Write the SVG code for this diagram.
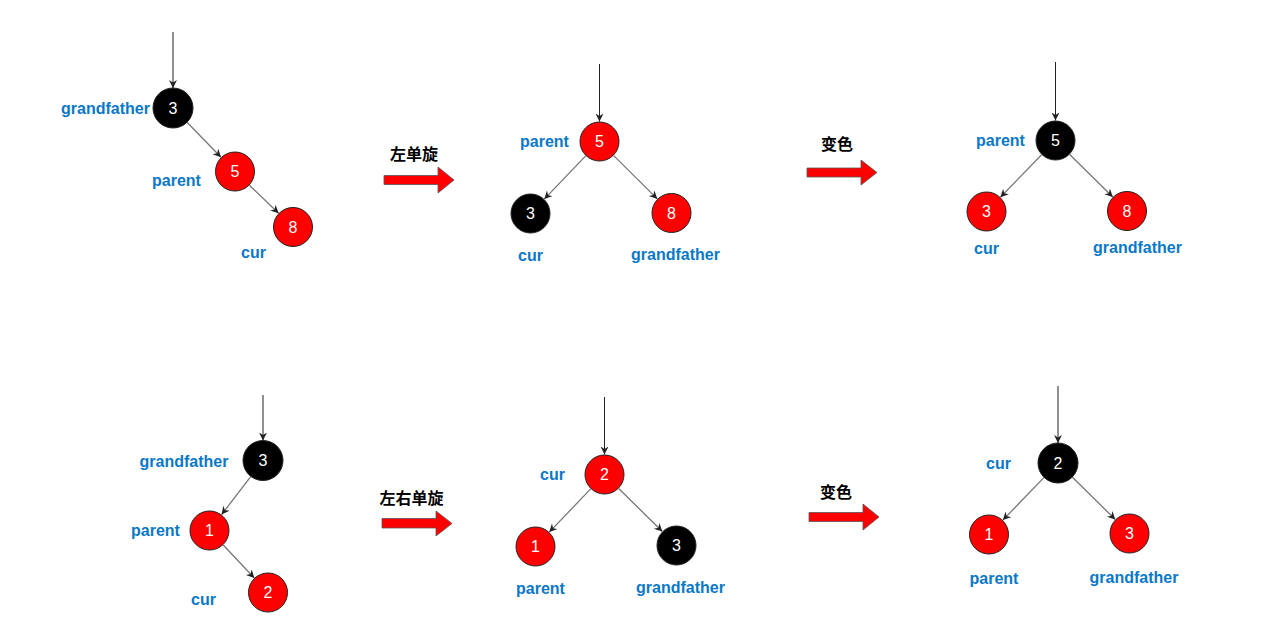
<svg xmlns="http://www.w3.org/2000/svg" width="1265" height="635" viewBox="0 0 1265 635">
<defs>
<marker id="ah" markerUnits="userSpaceOnUse" markerWidth="10" markerHeight="10" refX="8" refY="4" orient="auto">
<path d="M0,0 L8,4 L0,8 L2.5,4 z" fill="#222"/>
</marker>
<style>
.n{stroke:#222;stroke-width:1}
.r{fill:#ff0000}
.b{fill:#000}
.v{font-family:"Liberation Sans",Arial,sans-serif;font-size:16px;fill:#fff;text-anchor:middle}
.l{font-family:"Liberation Sans",Arial,sans-serif;font-size:16px;font-weight:bold;fill:#0a78c8}
.c{font-family:"Liberation Sans","Noto Sans CJK SC",sans-serif;font-size:16px;font-weight:bold;fill:#000}
.e{stroke:#777;stroke-width:1.3;fill:none;marker-end:url(#ah)}
.t{stroke:#222;stroke-width:1;fill:none;marker-end:url(#ah)}
.ba{fill:#ff0000;stroke:#555;stroke-width:0.8}
</style>
</defs>
<rect width="1265" height="635" fill="#fff"/>
<g id="connectors">
<line class="t" x1="173" y1="32" x2="173" y2="88"/>
<line class="e" x1="187" y1="122.3" x2="221" y2="157.2"/>
<line class="e" x1="249.4" y1="185.3" x2="278.6" y2="213.2"/>
<line class="t" x1="599.5" y1="64" x2="599.5" y2="121.5"/>
<line class="e" x1="585.7" y1="155.9" x2="544.3" y2="199.1"/>
<line class="e" x1="613.7" y1="155.6" x2="657.3" y2="198.9"/>
<line class="t" x1="1055.5" y1="62" x2="1055.5" y2="120.5"/>
<line class="e" x1="1041.6" y1="154.8" x2="1000.4" y2="197.2"/>
<line class="e" x1="1069.7" y1="154.5" x2="1112.8" y2="197"/>
<line class="t" x1="263" y1="395" x2="263" y2="440.5"/>
<line class="e" x1="250.9" y1="476.4" x2="221.6" y2="514.6"/>
<line class="e" x1="223.2" y1="545" x2="254.3" y2="578"/>
<line class="t" x1="604.5" y1="397" x2="604.5" y2="454.5"/>
<line class="e" x1="590.7" y1="488.9" x2="549.3" y2="532.1"/>
<line class="e" x1="618.7" y1="488.5" x2="662.3" y2="531.5"/>
<line class="t" x1="1058" y1="386" x2="1058" y2="443"/>
<line class="e" x1="1044.1" y1="477.4" x2="1002.9" y2="520.1"/>
<line class="e" x1="1072.2" y1="477" x2="1115.3" y2="519.5"/>
</g>
<g id="arrow1"><polygon class="ba" points="384,175.5 438,175.5 438,167 454,180 438,193 438,184.5 384,184.5"/><text class="c" x="390" y="160">左单旋</text></g>
<g id="arrow2"><polygon class="ba" points="807,168 861,168 861,160 877,172.5 861,185 861,177 807,177"/><text class="c" x="821" y="150">变色</text></g>
<g id="arrow3"><polygon class="ba" points="382,518.5 436,518.5 436,511 452,523.5 436,536 436,528 382,528"/><text class="c" x="379.5" y="504">左右单旋</text></g>
<g id="arrow4"><polygon class="ba" points="809,512.5 863,512.5 863,504 879,517 863,530 863,521.5 809,521.5"/><text class="c" x="820" y="498">变色</text></g>
<g id="t1-gf"><circle class="n b" cx="173" cy="108" r="20"/><text class="v" x="173" y="113.7">3</text><text class="l" x="61" y="114">grandfather</text></g>
<g id="t1-p"><circle class="n r" cx="235" cy="171.5" r="19.5"/><text class="v" x="235" y="177.2">5</text><text class="l" x="152" y="185.5">parent</text></g>
<g id="t1-c"><circle class="n r" cx="293" cy="227" r="19.5"/><text class="v" x="293" y="232.7">8</text><text class="l" x="241" y="257.5">cur</text></g>
<g id="t2-p"><circle class="n r" cx="599.5" cy="141.5" r="19.5"/><text class="v" x="599.5" y="147.2">5</text><text class="l" x="520" y="146.5">parent</text></g>
<g id="t2-c"><circle class="n b" cx="530.5" cy="213.5" r="19.5"/><text class="v" x="530.5" y="219.2">3</text><text class="l" x="518" y="260.5">cur</text></g>
<g id="t2-gf"><circle class="n r" cx="671.5" cy="213" r="19.5"/><text class="v" x="671.5" y="218.7">8</text><text class="l" x="631" y="260">grandfather</text></g>
<g id="t3-p"><circle class="n b" cx="1055.5" cy="140.5" r="19.5"/><text class="v" x="1055.5" y="146.2">5</text><text class="l" x="976" y="146">parent</text></g>
<g id="t3-c"><circle class="n r" cx="986.5" cy="211.5" r="19.5"/><text class="v" x="986.5" y="217.2">3</text><text class="l" x="974" y="253.5">cur</text></g>
<g id="t3-gf"><circle class="n r" cx="1127" cy="211" r="19.5"/><text class="v" x="1127" y="216.7">8</text><text class="l" x="1093" y="253">grandfather</text></g>
<g id="t4-gf"><circle class="n b" cx="263" cy="460.5" r="20"/><text class="v" x="263" y="466.2">3</text><text class="l" x="139.5" y="467">grandfather</text></g>
<g id="t4-p"><circle class="n r" cx="209.5" cy="530.5" r="19.5"/><text class="v" x="209.5" y="536.2">1</text><text class="l" x="131" y="535.5">parent</text></g>
<g id="t4-c"><circle class="n r" cx="268" cy="592.5" r="19.5"/><text class="v" x="268" y="598.2">2</text><text class="l" x="191" y="604.5">cur</text></g>
<g id="t5-c"><circle class="n r" cx="604.5" cy="474.5" r="19.5"/><text class="v" x="604.5" y="480.2">2</text><text class="l" x="540" y="479.5">cur</text></g>
<g id="t5-p"><circle class="n r" cx="535.5" cy="546.5" r="19.5"/><text class="v" x="535.5" y="552.2">1</text><text class="l" x="516" y="594">parent</text></g>
<g id="t5-gf"><circle class="n b" cx="676.5" cy="545.5" r="19.5"/><text class="v" x="676.5" y="551.2">3</text><text class="l" x="636" y="592.5">grandfather</text></g>
<g id="t6-c"><circle class="n b" cx="1058" cy="463" r="20"/><text class="v" x="1058" y="468.7">2</text><text class="l" x="986" y="468.5">cur</text></g>
<g id="t6-p"><circle class="n r" cx="989" cy="534.5" r="19.5"/><text class="v" x="989" y="540.2">1</text><text class="l" x="969.5" y="583.5">parent</text></g>
<g id="t6-gf"><circle class="n r" cx="1129.5" cy="533.5" r="19.5"/><text class="v" x="1129.5" y="539.2">3</text><text class="l" x="1089.5" y="583">grandfather</text></g>
</svg>
